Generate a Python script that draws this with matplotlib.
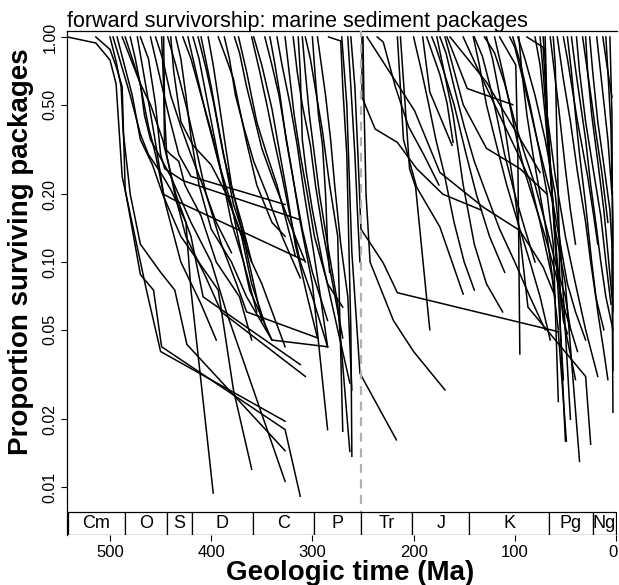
import matplotlib
matplotlib.use("Agg")
import matplotlib.pyplot as plt
import matplotlib.transforms as mtransforms
from matplotlib.patches import Rectangle

plt.rcParams['font.family'] = ['Liberation Sans', 'DejaVu Sans']

# survivorship curves: (age in Ma, proportion of packages still present)
curves = [
    [(542, 1.0), (514, 0.94), (500, 0.79), (494, 0.62), (488, 0.24), (464, 0.075), (450, 0.04), (327, 0.0196)],
    [(514, 1.0), (500, 0.88), (494, 0.74), (488, 0.6), (485, 0.21), (470, 0.088), (457, 0.075), (449, 0.042), (327, 0.018), (312, 0.0091)],
    [(500, 1.0), (494, 0.78), (489, 0.6), (487, 0.38), (480, 0.2), (470, 0.12), (450, 0.09), (436, 0.075), (424, 0.043), (327, 0.0145)],
    [(497, 1.0), (480, 0.55), (470, 0.37), (462, 0.3), (450, 0.25), (440, 0.21), (425, 0.15), (420, 0.075), (398, 0.0094)],
    [(493, 1.0), (478, 0.55), (470, 0.35), (458, 0.27), (448, 0.2), (430, 0.13), (393, 0.075), (378, 0.027), (360, 0.012)],
    [(488, 1.0), (470, 0.62), (460, 0.5), (448, 0.35), (435, 0.2), (420, 0.13), (408, 0.07), (312, 0.035)],
    [(485, 1.0), (470, 0.62), (466, 0.45), (460, 0.35), (440, 0.24), (420, 0.15), (400, 0.1), (385, 0.06), (327, 0.0106)],
    [(470, 1.0), (462, 0.8), (455, 0.5), (450, 0.3), (446, 0.26), (428, 0.23), (312, 0.154)],
    [(473, 1.0), (465, 0.62), (456, 0.36), (447, 0.2), (438, 0.19), (309, 0.102)],
    [(460, 1.0), (452, 0.7), (442, 0.45), (432, 0.3), (420, 0.24), (327, 0.18)],
    [(449, 1.0), (447, 0.6), (446, 0.32), (440, 0.3), (432, 0.28), (426, 0.22), (410, 0.16), (395, 0.1), (372, 0.07), (360, 0.045)],
    [(447, 1.0), (446, 0.45), (444, 0.3), (436, 0.2), (425, 0.13), (405, 0.085), (390, 0.06), (307, 0.031)],
    [(443, 1.0), (435, 0.75), (425, 0.5), (415, 0.32), (405, 0.2), (390, 0.12), (375, 0.08), (365, 0.06), (295, 0.046)],
    [(428, 1.0), (420, 0.8), (410, 0.55), (400, 0.38), (392, 0.27), (385, 0.2), (370, 0.13), (360, 0.08), (345, 0.05)],
    [(423, 1.0), (415, 0.7), (405, 0.45), (393, 0.28), (380, 0.18), (372, 0.12), (362, 0.075), (340, 0.045), (285, 0.042)],
    [(418, 1.0), (412, 0.8), (405, 0.55), (398, 0.38), (390, 0.25), (380, 0.15), (368, 0.1), (355, 0.06)],
    [(413, 1.0), (405, 0.72), (398, 0.52), (388, 0.3), (378, 0.2), (370, 0.15), (360, 0.1)],
    [(410, 1.0), (400, 0.6), (392, 0.38), (385, 0.26), (378, 0.18), (365, 0.12)],
    [(403, 1.0), (398, 0.75), (392, 0.5), (386, 0.33), (380, 0.22), (370, 0.14), (358, 0.08), (350, 0.055)],
    [(393, 1.0), (385, 0.8), (378, 0.65), (372, 0.48), (365, 0.34), (355, 0.22), (340, 0.15), (327, 0.13)],
    [(387, 1.0), (382, 0.8), (376, 0.55), (368, 0.4), (358, 0.28), (345, 0.2), (330, 0.13), (312, 0.085)],
    [(377, 1.0), (372, 0.85), (365, 0.6), (358, 0.45), (350, 0.32), (340, 0.24), (325, 0.16), (307, 0.1)],
    [(373, 1.0), (365, 0.7), (355, 0.42), (345, 0.3), (335, 0.22), (317, 0.107)],
    [(440, 1.0), (437, 0.7), (430, 0.42), (418, 0.33), (400, 0.27), (385, 0.2), (372, 0.14), (360, 0.1), (350, 0.08), (327, 0.042)],
    [(435, 1.0), (430, 0.8), (425, 0.55), (420, 0.36), (412, 0.22), (400, 0.14), (380, 0.1), (365, 0.07), (340, 0.045)],
    [(480, 1.0), (475, 0.8), (468, 0.55), (462, 0.4), (455, 0.3), (445, 0.18), (430, 0.1), (410, 0.065), (395, 0.045)],
    [(455, 1.0), (448, 0.8), (440, 0.55), (430, 0.4), (420, 0.3), (405, 0.2), (395, 0.15), (380, 0.11)],
    [(360, 1.0), (352, 0.7), (345, 0.5), (338, 0.35), (330, 0.24), (322, 0.16), (312, 0.1), (300, 0.07), (285, 0.042)],
    [(358, 1.0), (350, 0.75), (340, 0.48), (332, 0.3), (325, 0.2), (317, 0.12), (305, 0.07), (295, 0.046)],
    [(347, 1.0), (340, 0.75), (333, 0.55), (327, 0.38), (320, 0.25), (312, 0.15), (300, 0.08), (285, 0.018)],
    [(327, 1.0), (323, 0.7), (318, 0.45), (312, 0.3), (305, 0.2), (298, 0.13), (285, 0.08), (270, 0.063)],
    [(319, 1.0), (315, 0.7), (310, 0.5), (302, 0.33), (297, 0.22), (290, 0.14), (280, 0.08), (270, 0.046)],
    [(314, 1.0), (312, 0.7), (310, 0.35), (306, 0.25), (300, 0.17), (290, 0.1), (275, 0.05), (263, 0.029)],
    [(310, 1.0), (307, 0.7), (303, 0.45), (298, 0.3), (293, 0.2), (285, 0.12), (275, 0.065), (263, 0.0144)],
    [(307, 1.0), (302, 0.8), (296, 0.55), (290, 0.38), (283, 0.22), (275, 0.13), (270, 0.0177)],
    [(300, 1.0), (297, 0.65), (294, 0.45), (290, 0.33), (287, 0.2), (285, 0.12), (283, 0.09)],
    [(295, 1.0), (292, 0.8), (287, 0.55), (282, 0.35), (278, 0.22), (272, 0.12), (265, 0.07), (261, 0.027)],
    [(284, 1.0), (272, 0.96), (270, 0.6), (266, 0.3), (264, 0.12), (262, 0.05), (261, 0.0137)],
    [(271, 1.0), (266, 0.5), (263, 0.2), (261, 0.11), (253, 0.032), (217, 0.0162)],
    [(265, 1.0), (262, 0.6), (258, 0.3), (255, 0.15), (253, 0.1)],
    [(342, 1.0), (338, 0.8), (332, 0.55), (326, 0.35), (318, 0.22), (310, 0.14), (300, 0.09), (285, 0.055)],
    [(335, 1.0), (330, 0.75), (322, 0.5), (315, 0.33), (308, 0.2), (300, 0.12), (292, 0.07), (285, 0.042)],
    [(251, 1.0), (251, 0.54), (238, 0.39), (216, 0.34), (197, 0.26), (171, 0.2), (133, 0.17)],
    [(246, 1.0), (199, 0.47), (174, 0.25), (131, 0.175), (95, 0.138), (72, 0.095), (60, 0.07)],
    [(262, 1.0), (258, 0.6), (255, 0.3), (252, 0.14), (230, 0.099), (216, 0.073), (57, 0.049), (49, 0.016)],
    [(216, 1.0), (210, 0.35), (197, 0.215), (174, 0.143), (151, 0.072)],
    [(213, 1.0), (204, 0.26), (198, 0.215), (184, 0.05)],
    [(236, 1.0), (230, 0.95), (218, 0.6), (205, 0.4), (190, 0.3), (175, 0.22)],
    [(250, 1.0), (249, 0.5), (247, 0.2), (243, 0.1), (220, 0.055), (200, 0.04), (169, 0.027)],
    [(200, 1.0), (192, 0.7), (185, 0.5), (178, 0.35), (170, 0.25), (160, 0.15), (150, 0.1), (140, 0.075)],
    [(191, 1.0), (184, 0.57), (162, 0.33)],
    [(187, 1.0), (174, 0.68), (167, 0.51), (161, 0.34)],
    [(177, 1.0), (161, 0.45), (151, 0.22), (140, 0.12), (128, 0.08), (112, 0.06)],
    [(169, 1.0), (151, 0.5), (128, 0.32), (95, 0.26), (68, 0.2)],
    [(167, 1.0), (147, 0.59), (102, 0.5)],
    [(164, 1.0), (128, 0.63), (75, 0.25)],
    [(151, 1.0), (134, 0.68), (95, 0.29), (85, 0.23), (75, 0.15), (63, 0.085), (57, 0.05)],
    [(174, 1.0), (168, 0.85), (160, 0.6), (150, 0.4), (140, 0.28), (128, 0.2), (115, 0.14), (100, 0.1), (85, 0.07), (70, 0.05)],
    [(182, 1.0), (178, 0.9), (170, 0.7), (160, 0.5), (148, 0.3), (138, 0.2), (125, 0.13), (110, 0.09)],
    [(141, 1.0), (135, 0.75), (128, 0.5), (118, 0.33), (108, 0.22), (95, 0.14), (85, 0.1), (75, 0.07), (65, 0.045)],
    [(115, 1.0), (99, 0.75), (97, 0.3), (95, 0.039)],
    [(102, 1.0), (95, 0.78), (85, 0.5), (75, 0.3), (68, 0.2), (62, 0.12), (57, 0.024)],
    [(97, 1.0), (90, 0.8), (80, 0.55), (70, 0.35), (60, 0.2), (55, 0.12), (45, 0.02)],
    [(88, 1.0), (72, 0.9), (68, 0.45), (63, 0.2), (58, 0.1), (52, 0.055), (48, 0.048)],
    [(80, 1.0), (75, 0.75), (70, 0.45), (65, 0.25), (60, 0.14), (50, 0.08), (36, 0.013)],
    [(72, 1.0), (70, 0.8), (68, 0.45), (63, 0.2), (58, 0.09), (50, 0.05), (40, 0.03)],
    [(70, 1.0), (68, 0.45), (60, 0.24), (50, 0.13), (40, 0.08), (30, 0.05), (18, 0.031)],
    [(65, 1.0), (57, 0.5), (50, 0.26), (45, 0.17), (40, 0.12)],
    [(58, 1.0), (52, 0.65), (45, 0.42), (38, 0.25), (30, 0.15), (25, 0.1), (20, 0.07), (12, 0.05)],
    [(52, 1.0), (48, 0.8), (38, 0.42), (28, 0.24), (22, 0.16), (18, 0.12)],
    [(39, 1.0), (36, 0.7), (30, 0.42), (22, 0.25), (15, 0.16), (10, 0.1), (5, 0.065)],
    [(33, 1.0), (26, 0.6), (20, 0.38), (14, 0.25), (8, 0.15)],
    [(26, 1.0), (23, 0.7), (18, 0.42), (12, 0.27), (6, 0.17), (4, 0.12), (3, 0.0215)],
    [(19, 1.0), (14, 0.62), (8, 0.35), (4, 0.2)],
    [(13, 1.0), (9, 0.75), (4, 0.54)],
    [(6, 1.0), (4, 0.45), (3, 0.033)],
    [(130, 1.0), (120, 0.85), (110, 0.62), (100, 0.42), (90, 0.3), (80, 0.22), (70, 0.15), (60, 0.1), (50, 0.07), (45, 0.05)],
    [(120, 1.0), (112, 0.7), (105, 0.5), (98, 0.35), (90, 0.25), (80, 0.18), (70, 0.13), (60, 0.09), (50, 0.06), (38, 0.04)],
    [(105, 1.0), (100, 0.9), (92, 0.65), (85, 0.48), (78, 0.35), (70, 0.25), (62, 0.18), (55, 0.12), (48, 0.08), (40, 0.06), (30, 0.045)],
    [(62, 1.0), (60, 0.75), (58, 0.3), (56, 0.12), (55, 0.05), (50, 0.016)],
    [(48, 1.0), (44, 0.7), (40, 0.45), (36, 0.3), (30, 0.18), (24, 0.1), (18, 0.06), (12, 0.04), (8, 0.03)],
    [(44, 1.0), (40, 0.72), (35, 0.5), (30, 0.35), (25, 0.22), (20, 0.15), (15, 0.1), (10, 0.07), (3, 0.05)],
    [(96, 1.0), (93, 0.7), (88, 0.45), (82, 0.3), (75, 0.2), (68, 0.13), (62, 0.08)],
    [(128, 1.0), (122, 0.8), (115, 0.55), (108, 0.35), (100, 0.2), (94, 0.12), (87, 0.063), (30, 0.031), (25, 0.0155)],
    [(75, 1.0), (72, 0.7), (68, 0.4), (64, 0.22), (60, 0.12), (56, 0.06), (52, 0.03)],
    [(30, 1.0), (28, 0.7), (24, 0.45), (18, 0.28), (12, 0.17), (8, 0.11), (4, 0.07)],
    [(10, 1.0), (8, 0.7), (5, 0.4), (3, 0.15), (3, 0.06)],
    [(140, 1.0), (132, 0.82), (125, 0.62), (118, 0.45), (110, 0.3), (100, 0.2), (90, 0.14), (80, 0.1)],
]

# geologic periods: names and boundaries (Ma)
period_names = ["Cm", "O", "S", "D", "C", "P", "Tr", "J", "K", "Pg", "Ng"]
period_bounds = [542, 485.4, 443.8, 419.2, 358.9, 298.9, 251.9, 201.3, 145.0, 66.0, 23.0, 0.0]

x_ticks = [500, 400, 300, 200, 100, 0]
y_ticks = [0.01, 0.02, 0.05, 0.10, 0.20, 0.50, 1.00]
y_ticklabels = ["0.01", "0.02", "0.05", "0.10", "0.20", "0.50", "1.00"]
pt_boundary = 252

ymin, ymax = 0.00612, 1.063
box_top = 0.00774

fig = plt.figure(figsize=(6.19, 5.85), dpi=100)
ax = fig.add_axes([67 / 619, 1 - 535 / 585, 550 / 619, (535 - 31) / 585])
ax.set_yscale("log")
ax.set_xlim(542.5, -1)
ax.set_ylim(ymin, ymax)

for c in curves:
    xs = [p[0] for p in c]
    ys = [p[1] for p in c]
    ax.plot(xs, ys, color="black", lw=1.1, solid_joinstyle="miter")

ax.plot([pt_boundary, pt_boundary], [ymin, ymax], color="#b0b0b0", lw=1.6,
        ls=(0, (4, 3)), zorder=3)

# period boxes
for i, name in enumerate(period_names):
    left, right = period_bounds[i], period_bounds[i + 1]
    ax.add_patch(Rectangle((right, ymin), left - right, box_top - ymin,
                           facecolor="white", edgecolor="black", lw=0.9, zorder=4))
    ax.text((left + right) / 2, (ymin * box_top) ** 0.5, name, ha="center",
            va="center", fontsize=13, zorder=5)

ax.spines["right"].set_visible(False)
ax.spines["bottom"].set_visible(False)
ax.spines["left"].set_linewidth(0.9)
ax.spines["top"].set_linewidth(0.9)

ax.set_xticks(x_ticks)
ax.set_xticklabels([str(t) for t in x_ticks], fontsize=12)
ax.set_yticks(y_ticks)
ax.set_yticklabels(y_ticklabels, fontsize=11.5, rotation=90, va="center")
ax.minorticks_off()
ax.tick_params(axis="both", length=4, width=0.8, pad=3)

# nudge the "0" label so it stays inside the figure
last = ax.get_xticklabels()[-1]
last.set_transform(last.get_transform() +
                   mtransforms.ScaledTranslation(-3 / 100, 0, fig.dpi_scale_trans))

fig.text(67 / 619, 1 - 27 / 585, "forward survivorship: marine sediment packages",
         ha="left", va="baseline", fontsize=15.5)
fig.text(21 / 619, 1 - 252 / 585, "Proportion surviving packages", rotation=90,
         ha="center", va="center", fontsize=20, fontweight="bold")
fig.text(350 / 619, 1 - 573 / 585, "Geologic time (Ma)", ha="center", va="center",
         fontsize=20, fontweight="bold")

fig.savefig("out.png", dpi=100)
